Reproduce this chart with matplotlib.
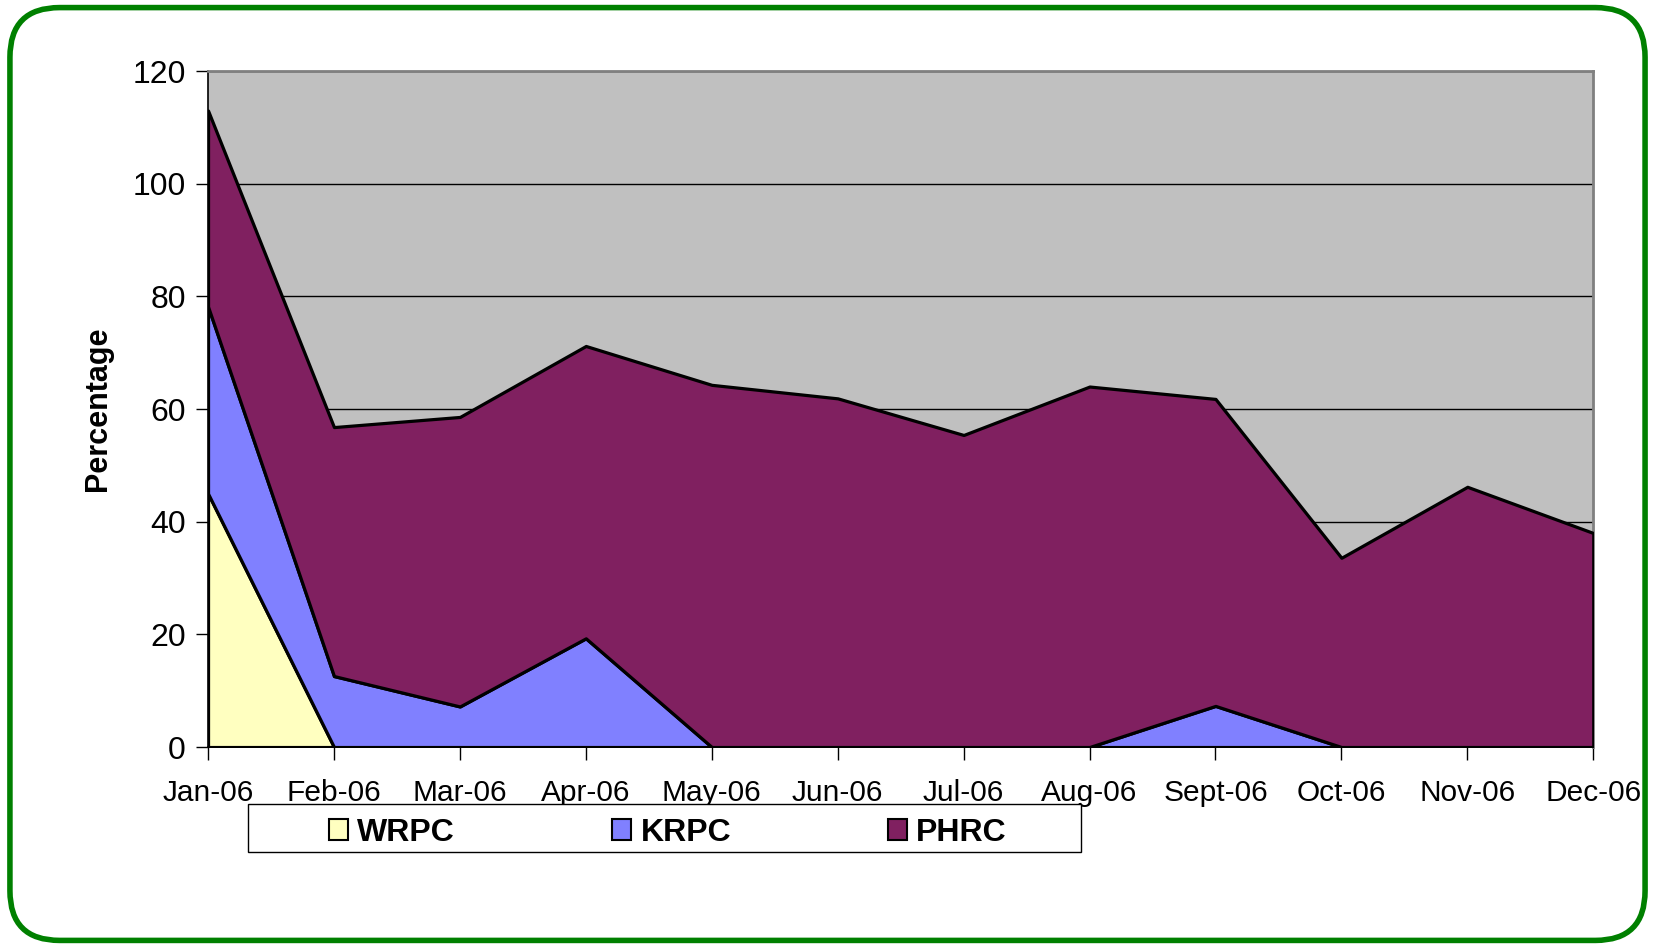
import matplotlib
matplotlib.use('Agg')
import matplotlib.pyplot as plt
from matplotlib.patches import FancyBboxPatch, Patch, Rectangle

plt.rcParams['font.family'] = ['Liberation Sans', 'DejaVu Sans']

months = ['Jan-06', 'Feb-06', 'Mar-06', 'Apr-06', 'May-06', 'Jun-06',
          'Jul-06', 'Aug-06', 'Sept-06', 'Oct-06', 'Nov-06', 'Dec-06']
wrpc = [45.0, 0, 0, 0, 0, 0, 0, 0, 0, 0, 0, 0]
krpc = [33.2, 12.6, 7.2, 19.3, 0, 0, 0, 0, 7.3, 0, 0, 0]
phrc = [34.8, 44.2, 51.4, 51.9, 64.3, 61.9, 55.4, 64.0, 54.5, 33.6, 46.2, 38.0]

labels = ['WRPC', 'KRPC', 'PHRC']
colors = ['#FFFFC0', '#8080FF', '#802060']

fig = plt.figure(figsize=(16.55, 9.48), dpi=100)

# rounded green frame around the whole chart
frame = FancyBboxPatch((0.006, 0.008), 0.988, 0.984,
                       boxstyle='round,pad=0,rounding_size=0.03',
                       transform=fig.transFigure, facecolor='white',
                       edgecolor='#008000', linewidth=4, zorder=-1,
                       mutation_aspect=1655 / 948)
fig.patches.append(frame)

ax = fig.add_axes([0.1257, 0.212, 0.837, 0.713])
ax.set_facecolor('#C0C0C0')

x = list(range(len(months)))
ax.stackplot(x, wrpc, krpc, phrc, colors=colors, edgecolor='black',
             linewidth=2.3, zorder=3)

ax.set_xlim(0, len(months) - 1)
ax.set_ylim(0, 120)
ax.set_yticks(range(0, 121, 20))
ax.set_xticks(x)
ax.set_xticklabels(months)
ax.yaxis.grid(True, color='black', linewidth=1, zorder=1)
ax.set_axisbelow(True)

ax.tick_params(axis='both', length=9, width=1, direction='out', colors='black')
ax.tick_params(axis='y', labelsize=23, pad=7)
ax.tick_params(axis='x', labelsize=21.5, pad=14)

for side in ['top', 'right']:
    ax.spines[side].set_color('#808080')
    ax.spines[side].set_linewidth(2)
ax.spines['left'].set_linewidth(1.2)
ax.spines['bottom'].set_linewidth(1.2)

ax.set_ylabel('Percentage', fontsize=22, fontweight='bold', labelpad=14)

# legend box
box = Rectangle((0.1499, 0.1013), 0.5033, 0.0506, transform=fig.transFigure,
                facecolor='white', edgecolor='black', linewidth=1)
fig.patches.append(box)

handles = [Patch(facecolor=c, edgecolor='black', linewidth=1.5) for c in colors]
leg = fig.legend(handles, labels, ncol=3, loc='center',
                 bbox_to_anchor=(0.4035, 0.1215),
                 prop={'size': 23, 'weight': 'bold'}, frameon=False,
                 handlelength=0.6, handleheight=0.6, handletextpad=0.3,
                 columnspacing=4.9, borderpad=0)

plt.savefig('out.png', dpi=100)
